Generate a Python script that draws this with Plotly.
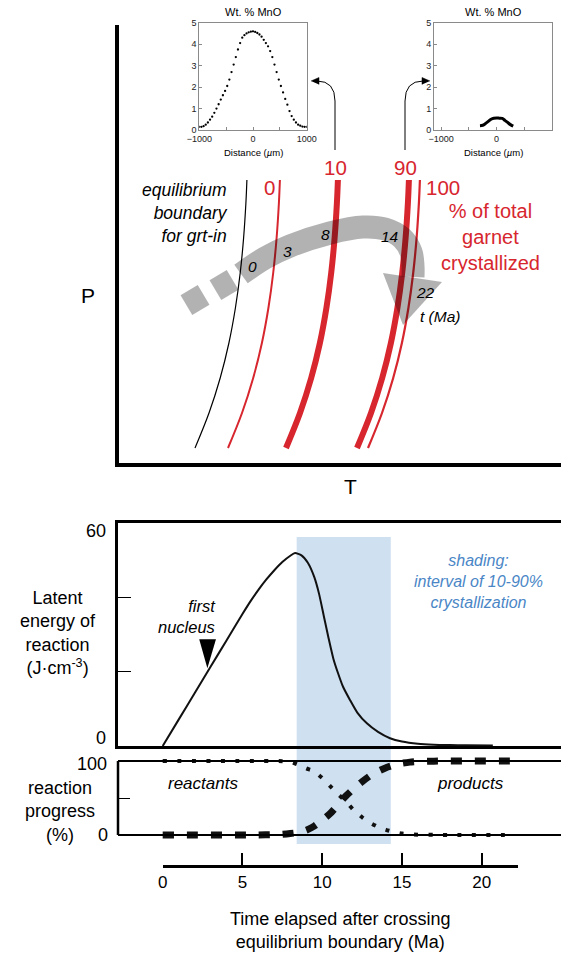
import plotly.graph_objects as go

W, H = 561, 959
FONT = "Liberation Sans, Arial, Helvetica, sans-serif"
RED = "#d7262e"
BLUE = "#4a86c6"
SHADE = "#cfe0f1"
GRAY = "rgba(0,0,0,0.30)"

# ---------------- data ----------------
# P-T diagram (schematic T, P units)
boundary_T = [76, 90, 101.2, 109.9, 116.4, 121.2, 124.6, 126.9, 127.9]
boundary_P = [15, 50, 85, 120, 155, 190, 225, 260, 283]
isopleth_pct = ["0", "10", "90", "100"]
isopleth_dT = [33, 91, 162, 173]
isopleth_w = [2.0, 6.0, 6.0, 2.2]
isopleth_label_T = [150, 216, 286, 324]
isopleth_label_P = [275, 295, 295, 275]

# P-T-t path (gray arrow)
path_dash_T = [67.4, 84.6, None, 96.4, 113.6]
path_dash_P = [157.9, 168.1, None, 172.9, 183.1]
path_T = [122, 146, 171, 211, 244, 266, 283, 292, 294, 294]
path_P = [189, 205, 217, 230, 236, 234, 225, 211, 197, 186]
head_T = [264, 323, 284]
head_P = [190, 181, 138]
path_time_labels = ["0", "3", "8", "14", "22"]
path_time_T = [133, 168, 206, 271, 306]
path_time_P = [196, 211, 228, 226, 170]

# pointers from the 10 % and 90 % isopleths to the profile insets
pointer_heads_T = [192, 200, 200, None, 311, 303, 303]
pointer_heads_P = [382, 385.5, 378.5, None, 382, 385.5, 378.5]

# Inset MnO profiles
dist_left = [-1000, -960, -920, -880, -840, -800, -760, -720, -680, -640, -600,
             -560, -520, -480, -440, -400, -360, -320, -280, -240, -200, -160,
             -120, -80, -40, 0, 40, 80, 120, 160, 200, 240, 280, 320, 360, 400,
             440, 480, 520, 560, 600, 640, 680, 720, 760, 800, 840, 880, 920,
             960, 1000]
mno_left = [0.15, 0.15, 0.18, 0.25, 0.35, 0.48, 0.62, 0.80, 1.00, 1.20, 1.42,
            1.62, 1.82, 2.05, 2.35, 2.70, 3.05, 3.40, 3.75, 4.05, 4.30, 4.42,
            4.50, 4.55, 4.58, 4.60, 4.57, 4.52, 4.45, 4.35, 4.20, 4.05, 3.90,
            3.68, 3.40, 3.05, 2.70, 2.35, 2.05, 1.75, 1.45, 1.18, 0.88, 0.65,
            0.48, 0.35, 0.25, 0.20, 0.16, 0.15, 0.15]
dist_right = [-300, -250, -200, -150, -100, -50, 0, 50, 100, 150, 200, 250, 300]
mno_right = [0.20, 0.22, 0.30, 0.40, 0.50, 0.55, 0.56, 0.55, 0.54, 0.45, 0.35, 0.25, 0.18]
inset_xticks = [-1000, 0, 1000]
inset_xminor = [-500, 500]
inset_yticks = [0, 1, 2, 3, 4, 5]

# Latent energy of reaction
t_energy = [0, 1, 2, 3, 4, 5, 5.5, 6, 6.5, 7, 7.5, 8, 8.3, 8.7, 9.1, 9.5, 9.8,
            10.1, 10.4, 10.7, 11.0, 11.3, 11.74, 12.2, 12.8, 13.5, 14.25, 15, 16,
            17, 18, 19, 20.7]
energy = [0, 7.1, 14.2, 21.3, 28.4, 35.5, 38.9, 42.0, 44.8, 47.3, 49.5, 51.2,
          51.9, 51.3, 49.3, 45.5, 41.0, 35.0, 29.0, 23.5, 19.5, 16.0, 12.4, 9.0,
          6.1, 3.8, 2.1, 1.2, 0.6, 0.35, 0.25, 0.2, 0.15]
nucleus_t = [2.29, 3.34, 2.80]
nucleus_E = [28.7, 28.7, 20.9]
shading_interval = [8.4, 14.3]

# Reaction progress
t_prog = [0, 6, 7, 7.5, 8, 8.5, 9, 9.5, 10, 10.5, 11, 11.5, 12, 12.5, 13, 13.5,
          14, 14.5, 15, 15.5, 16, 17, 18, 22]
products = [0, 0, 0.5, 1, 2, 3.5, 6.5, 12, 20, 29, 41, 53, 63, 72, 80, 86, 91,
            94.5, 97, 98.5, 99.3, 99.8, 100, 100]
reactants = [100, 100, 100, 99.8, 99, 95, 90, 86, 77, 66, 55, 45, 33, 24, 16.5,
             11, 7, 4, 2, 1, 0.5, 0.2, 0, 0]

time_ticks = [0, 5, 10, 15, 20]

# ---------------- layout helpers ----------------
def T_AT(px):
    return (px - 162.7) / 15.95

def fy(py):
    return (H - py) / H

fig = go.Figure()

# P-T isopleths
fig.add_trace(go.Scatter(x=boundary_T, y=boundary_P, mode="lines",
                         line=dict(color="black", width=1.2, shape="spline"),
                         xaxis="x", yaxis="y", hoverinfo="skip"))
for lab, dT, w in zip(isopleth_pct, isopleth_dT, isopleth_w):
    fig.add_trace(go.Scatter(x=[t + dT for t in boundary_T], y=boundary_P, mode="lines",
                             line=dict(color=RED, width=w, shape="spline"),
                             xaxis="x", yaxis="y", hoverinfo="skip"))
# gray path arrow
fig.add_trace(go.Scatter(x=path_dash_T, y=path_dash_P, mode="lines", connectgaps=False,
                         line=dict(color=GRAY, width=23), xaxis="x", yaxis="y", hoverinfo="skip"))
fig.add_trace(go.Scatter(x=path_T, y=path_P, mode="lines",
                         line=dict(color=GRAY, width=23, shape="spline", smoothing=1.0),
                         xaxis="x", yaxis="y", hoverinfo="skip"))
fig.add_trace(go.Scatter(x=head_T, y=head_P, mode="lines", fill="toself", fillcolor=GRAY,
                         line=dict(width=0, color="rgba(0,0,0,0)"), xaxis="x", yaxis="y",
                         hoverinfo="skip"))
# pointer arrowheads
fig.add_trace(go.Scatter(x=pointer_heads_T, y=pointer_heads_P, mode="lines", fill="toself",
                         fillcolor="black", line=dict(width=0.5, color="black"),
                         connectgaps=False, xaxis="x", yaxis="y", hoverinfo="skip"))

# insets
fig.add_trace(go.Scatter(x=dist_left, y=mno_left, mode="markers",
                         marker=dict(color="black", size=2.3), xaxis="x2", yaxis="y2",
                         hoverinfo="skip"))
fig.add_trace(go.Scatter(x=dist_right, y=mno_right, mode="lines",
                         line=dict(color="black", width=3, shape="spline"),
                         xaxis="x3", yaxis="y3", hoverinfo="skip"))

# energy
fig.add_trace(go.Scatter(x=t_energy, y=energy, mode="lines",
                         line=dict(color="#111", width=2, shape="spline", smoothing=0.6),
                         xaxis="x4", yaxis="y4", hoverinfo="skip"))
fig.add_trace(go.Scatter(x=nucleus_t, y=nucleus_E, mode="lines", fill="toself",
                         fillcolor="black", line=dict(width=0, color="black"),
                         xaxis="x4", yaxis="y4", hoverinfo="skip"))

# reaction progress
fig.add_trace(go.Scatter(x=t_prog, y=reactants, mode="lines",
                         line=dict(color="#111", width=4, dash="4px,10.5px", shape="spline",
                                   smoothing=0.6),
                         xaxis="x5", yaxis="y5", hoverinfo="skip"))
fig.add_trace(go.Scatter(x=t_prog, y=products, mode="lines",
                         line=dict(color="#111", width=7, dash="11px,13px", shape="spline",
                                   smoothing=0.6),
                         xaxis="x5", yaxis="y5", hoverinfo="skip"))

# time axis dummy
fig.add_trace(go.Scatter(x=[0, 20], y=[0, 0], mode="markers", marker=dict(opacity=0),
                         xaxis="x6", yaxis="y6", hoverinfo="skip"))

ax_common = dict(showgrid=False, zeroline=False, fixedrange=True, automargin=False)

# progress panel y mapping: 0 at 835 px, 100 at 761 px
p_per = (835 - 761) / 100.0
prog_lo, prog_hi = -8, 108
prog_dom = [fy(835 - prog_lo * p_per), fy(761 - (prog_hi - 100) * p_per)]

inset_axis = dict(showline=True, mirror=True, linecolor="#8a8a8a", linewidth=1,
                  ticks="inside", ticklen=3, tickcolor="#8a8a8a",
                  tickfont=dict(size=9, color="#222", family=FONT), **ax_common)
inset_minor = dict(tickmode="array", tickvals=inset_xminor, ticks="inside", ticklen=3,
                   tickcolor="#8a8a8a", showgrid=False)

fig.update_layout(
    template="none",
    width=W, height=H, margin=dict(l=0, r=0, t=0, b=0, pad=0, autoexpand=False),
    paper_bgcolor="white", plot_bgcolor="rgba(0,0,0,0)", showlegend=False,
    font=dict(family=FONT, color="black"),
    xaxis=dict(domain=[119 / W, 1], range=[0, 442], showline=True, linewidth=3.5,
               linecolor="black", showticklabels=False, ticks="", anchor="y", **ax_common),
    yaxis=dict(domain=[fy(463), fy(25)], range=[0, 438], showline=True, linewidth=3.5,
               linecolor="black", showticklabels=False, ticks="", anchor="x", **ax_common),
    xaxis2=dict(domain=[199.3 / W, 306.7 / W], range=[-1000, 1000], anchor="y2",
                tickmode="array", tickvals=inset_xticks, minor=inset_minor, **inset_axis),
    yaxis2=dict(domain=[fy(130), fy(22.7)], range=[0, 5], anchor="x2",
                tickmode="array", tickvals=inset_yticks, **inset_axis),
    xaxis3=dict(domain=[434 / W, 552 / W], range=[-1130, 1000], anchor="y3",
                tickmode="array", tickvals=inset_xticks, minor=inset_minor, **inset_axis),
    yaxis3=dict(domain=[fy(130), fy(22.7)], range=[0, 5], anchor="x3",
                tickmode="array", tickvals=inset_yticks, **inset_axis),
    xaxis4=dict(domain=[118 / W, 1], range=[T_AT(118), T_AT(561)], showline=True, mirror=True,
                linewidth=3, linecolor="black", showticklabels=False, ticks="", anchor="y4",
                **ax_common),
    yaxis4=dict(domain=[fy(746), fy(523)], range=[0, 60], showline=True, linewidth=3,
                linecolor="black", ticks="inside", tickvals=[20, 40], ticklen=13,
                tickwidth=1.2, tickcolor="black", showticklabels=False, anchor="x4",
                **ax_common),
    xaxis5=dict(domain=[118 / W, 1], range=[T_AT(118), T_AT(561)], visible=False,
                anchor="y5", **ax_common),
    yaxis5=dict(domain=prog_dom, range=[prog_lo, prog_hi], showline=False, ticks="inside",
                tickvals=[50], ticklen=12, tickwidth=1.2, tickcolor="black",
                showticklabels=False, anchor="x5", **ax_common),
    xaxis6=dict(domain=[162.7 / W, 517.7 / W], range=[0, 355 / 15.95], anchor="y6",
                showline=True, linewidth=3, linecolor="black", ticks="inside",
                tickmode="array", tickvals=time_ticks, ticklen=12, tickwidth=1.5,
                tickcolor="black", tickfont=dict(size=17, family=FONT, color="black"),
                **ax_common),
    yaxis6=dict(domain=[fy(865), fy(865) + 0.01], range=[0, 1], visible=False,
                anchor="x6", **ax_common),
)

shapes = [
    dict(type="rect", xref="x4", yref="paper", x0=shading_interval[0], x1=shading_interval[1],
         y0=fy(844), y1=fy(537), fillcolor=SHADE, line=dict(width=0), layer="below"),
    dict(type="line", xref="x5 domain", yref="y5", x0=0, x1=1, y0=100, y1=100,
         line=dict(color="black", width=2)),
    dict(type="line", xref="x5 domain", yref="y5", x0=0, x1=1, y0=0, y1=0,
         line=dict(color="black", width=2)),
    dict(type="line", xref="x5 domain", yref="y5", x0=0, x1=0, y0=0, y1=100,
         line=dict(color="black", width=2.5)),
    dict(type="path", xref="x", yref="y", path="M 216,313 L 216,362 Q 216,382 198,382",
         line=dict(color="black", width=1)),
    dict(type="path", xref="x", yref="y", path="M 286,313 L 286,362 Q 286,382 304,382",
         line=dict(color="black", width=1)),
]
fig.update_layout(shapes=shapes)

def pann(text, xpx, ypx, size, color="black", xanchor="center", align="center"):
    return dict(text=text, x=xpx / W, y=fy(ypx), xref="paper", yref="paper",
                showarrow=False, xanchor=xanchor, yanchor="middle", align=align,
                font=dict(size=size, color=color, family=FONT))

def dann(text, x, y, size, color="black", xanchor="center", align="center"):
    return dict(text=text, x=x, y=y, xref="x", yref="y", showarrow=False,
                xanchor=xanchor, yanchor="middle", align=align,
                font=dict(size=size, color=color, family=FONT))

anns = []
# P-T panel
anns.append(pann("P", 88, 296, 21))
anns.append(pann("T", 350, 487, 21))
for lab, x, y in zip(isopleth_pct, isopleth_label_T, isopleth_label_P):
    anns.append(dann(lab, x, y, 20.5, RED))
anns.append(dann("% of total<br>garnet<br>crystallized", 371, 226, 20, RED))
anns.append(dann("<i>equilibrium</i><br><i>boundary</i><br><i>for grt-in</i>", 111, 250, 17.5,
                 xanchor="right", align="right"))
for lab, x, y in zip(path_time_labels, path_time_T, path_time_P):
    anns.append(dann("<i>" + lab + "</i>", x, y, 15.5))
anns.append(dann("<i>t (Ma)</i>", 321, 146, 15.5))
# insets
for cx in (253, 493):
    anns.append(pann("Wt. % MnO", cx, 12, 11))
    anns.append(pann("Distance (<i>µ</i>m)", cx, 152, 9.5))
# energy panel
anns.append(pann("Latent<br>energy of<br>reaction<br>(J·cm<sup>-3</sup>)", 58, 633, 18))
anns.append(pann("60", 108, 531, 18, xanchor="right"))
anns.append(pann("0", 108, 738, 18, xanchor="right"))
anns.append(pann("<i>first</i><br><i>nucleus</i>", 218, 616, 16.5, xanchor="right",
                 align="right"))
anns.append(pann("<i>shading:</i><br><i>interval of 10-90%</i><br><i>crystallization</i>",
                 478, 582, 16, BLUE))
# progress panel
anns.append(pann("reaction<br>progress<br>(%)", 60, 811, 18))
anns.append(pann("100", 109, 764, 18, xanchor="right"))
anns.append(pann("0", 110, 835, 18, xanchor="right"))
anns.append(pann("<i>reactants</i>", 203, 783, 17))
anns.append(pann("<i>products</i>", 470, 783, 17))
# time axis title
anns.append(pann("Time elapsed after crossing<br>equilibrium boundary (Ma)", 340, 930, 18))

fig.update_layout(annotations=anns)

fig.write_html("out.html")
